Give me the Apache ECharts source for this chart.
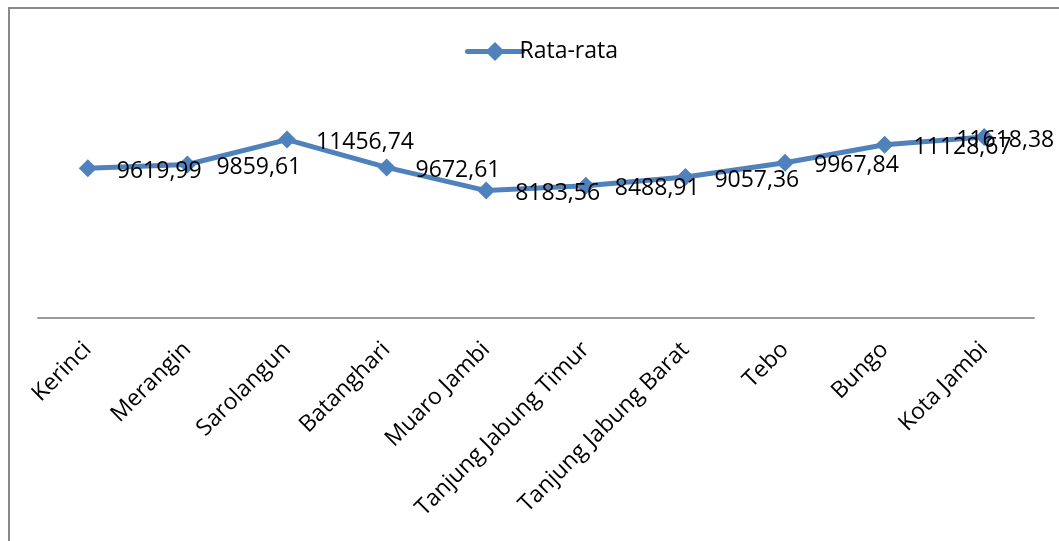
<!DOCTYPE html>
<html>
<head>
<meta charset="utf-8">
<script src="https://cdn.jsdelivr.net/npm/echarts@6/dist/echarts.min.js"></script>
<style>
  html, body { margin: 0; padding: 0; background: #fff; }
  #chart { width: 1059px; height: 541px; }
</style>
</head>
<body>
<div id="chart"></div>
<script>
// Average per regency / city in Jambi province
const categories = ['Kerinci', 'Merangin', 'Sarolangun', 'Batanghari', 'Muaro Jambi',
  'Tanjung Jabung Timur', 'Tanjung Jabung Barat', 'Tebo', 'Bungo', 'Kota Jambi'];
const rataRata = [9619.99, 9859.61, 11456.74, 9672.61, 8183.56,
  8488.91, 9057.36, 9967.84, 11128.67, 11618.38];
const seriesName = 'Rata-rata';

const font = '"Open Sans", "Liberation Sans", sans-serif';
const chart = echarts.init(document.getElementById('chart'), null, { renderer: 'canvas' });

// the last label is pulled back left so it stays inside the chart area
const seriesData = rataRata.map((v, i) => i === rataRata.length - 1
  ? { value: v, label: { offset: [-57, 3] } }
  : v);

chart.setOption({
  animation: false,
  backgroundColor: '#fff',
  graphic: [{
    type: 'rect',
    shape: { x: 9, y: 8, width: 1200, height: 700 },
    style: { fill: 'none', stroke: '#8a8a8a', lineWidth: 2 },
    silent: true
  }],
  legend: {
    left: 460, top: 35,
    itemWidth: 55, itemHeight: 24, itemGap: 10,
    lineStyle: { width: 5, cap: 'round' },
    textStyle: { fontFamily: font, fontSize: 23, color: '#000', padding: [0, 0, 0, -8] },
    data: [seriesName]
  },
  grid: { left: 38, right: 25, top: 100, height: 218, containLabel: false },
  xAxis: {
    type: 'category',
    data: categories,
    boundaryGap: true,
    axisLine: { lineStyle: { color: '#9a9a9a', width: 2 } },
    axisTick: { show: false },
    axisLabel: {
      rotate: 45, margin: 28, interval: 0,
      fontFamily: font, fontSize: 23, color: '#000'
    }
  },
  yAxis: {
    type: 'value', min: 0, max: 14000, interval: 2000,
    show: false, splitLine: { show: false }
  },
  series: [{
    name: seriesName,
    type: 'line',
    data: seriesData,
    symbol: 'diamond',
    symbolSize: 18,
    color: '#4F81BD',
    lineStyle: { width: 5, color: '#4F81BD' },
    itemStyle: { color: '#4F81BD' },
    label: {
      show: true, position: 'right', distance: 20, offset: [0, 3],
      fontFamily: font, fontSize: 23, color: '#000',
      formatter: p => p.value.toFixed(2).replace('.', ',')
    }
  }]
});
</script>
</body>
</html>
